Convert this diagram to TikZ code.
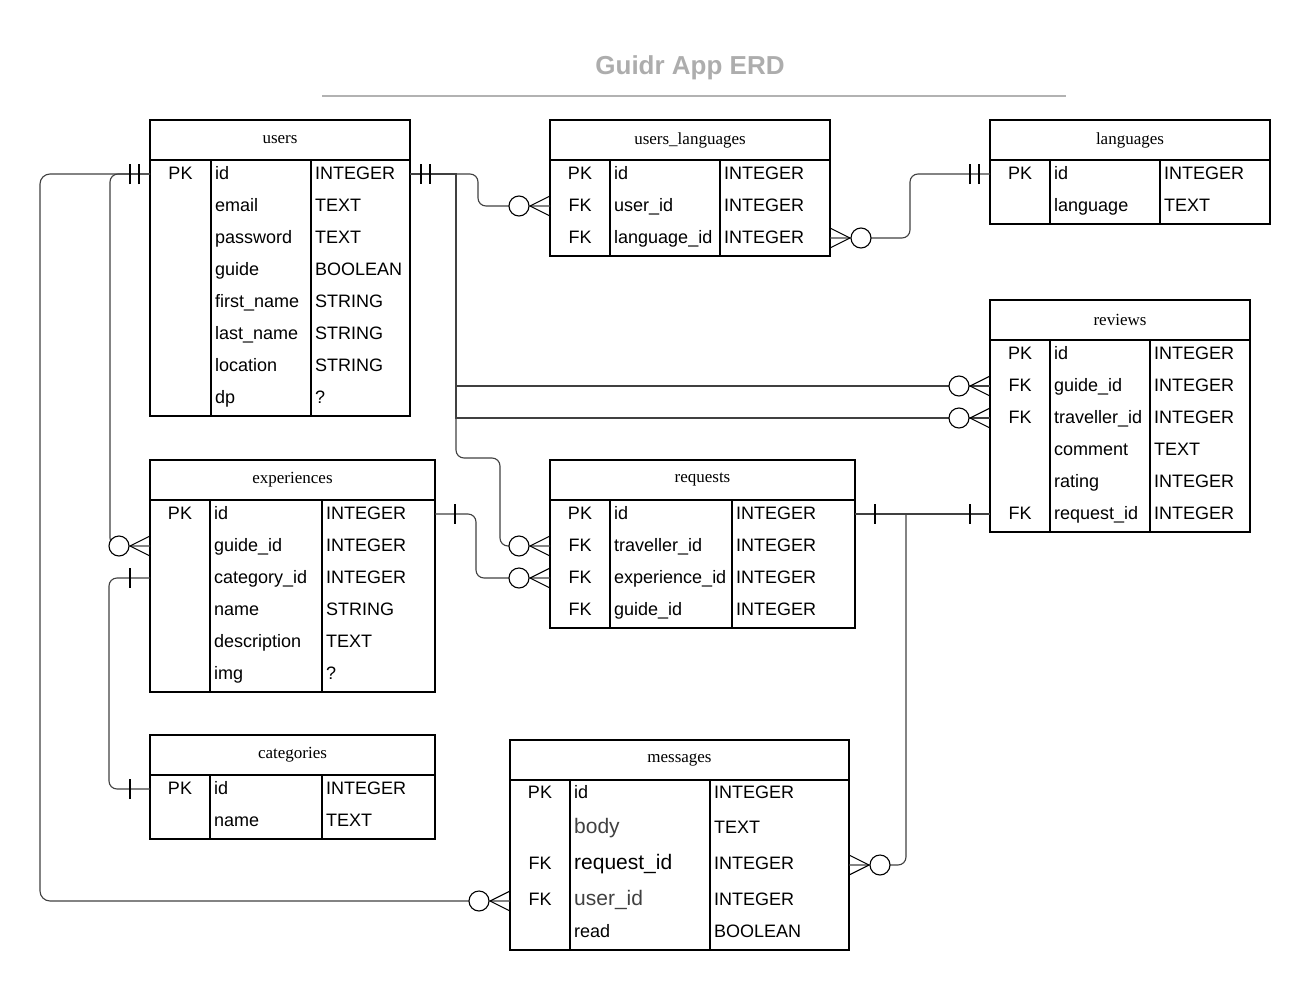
\documentclass[tikz,border=0pt]{standalone}
\usepackage{fontspec}
\setmainfont{Liberation Serif}
\setsansfont{Liberation Sans}
\usetikzlibrary{decorations.markings}

\begin{document}
\begin{tikzpicture}[x=1pt,y=-1pt,
    tablehead/.style={draw,line width=1.2pt,inner sep=0pt,outer sep=0pt,
      font=\fontsize{17}{20}\selectfont},
    tablebody/.style={line width=1.2pt},
    tablerow/.style={inner sep=0pt,outer sep=0pt,minimum height=32pt},
    keytext/.style={anchor=base,inner sep=0pt,font=\sffamily\fontsize{18}{22}\selectfont},
    fieldtext/.style={anchor=base west,inner sep=0pt,font=\sffamily\fontsize{18}{22}\selectfont},
    rel/.style={draw=black!75,line width=1.1pt},
    one/.style={postaction={decorate,decoration={markings,
      mark=at position 20pt with {\draw[black] (0,-10) -- (0,10);}}}},
    oneend/.style={postaction={decorate,decoration={markings,
      mark=at position -20pt with {\draw[black] (0,-10) -- (0,10);}}}},
    onlyone/.style={postaction={decorate,decoration={markings,
      mark=at position 11pt with {\draw[black] (0,-10) -- (0,10);},
      mark=at position 20pt with {\draw[black] (0,-10) -- (0,10);}}}},
    zeromany/.style={postaction={decorate,decoration={markings,
      mark=at position 1 with {\draw[black] (-20,0) -- (0,-10) (-20,0) -- (0,10);
        \draw[black,fill=white] (-31,0) circle (10);}}}}]
  \useasboundingbox (0,0) rectangle (1310,991);

  % title
  \node[font=\sffamily\bfseries\fontsize{26}{30}\selectfont,text=black!32] (title) at (690,68) {Guidr App ERD};
  \draw[black!30,line width=2pt] (322,96) -- (1066,96);

  % users
  \node[tablehead,minimum width=260pt,minimum height=40pt] (users) at (280,140) {users};
  \draw[tablebody] (users.south west) rectangle (410,416) (211,160) -- (211,416) (311,160) -- (311,416);
  \foreach \key/\fld/\typ [count=\i] in {PK/id/INTEGER, {}/email/TEXT, {}/password/TEXT, {}/guide/BOOLEAN,
      {}/first\_name/STRING, {}/last\_name/STRING, {}/location/STRING, {}/dp/?}{
    \node[tablerow,minimum width=260pt] (users-\i) at (280,{142+32*\i}) {};
    \node[keytext] (users-k\i) at (180.5,{147.5+32*\i}) {\key};
    \node[fieldtext] (users-f\i) at (215,{147.5+32*\i}) {\fld};
    \node[fieldtext] (users-t\i) at (315,{147.5+32*\i}) {\typ};
  }

  % users_languages
  \node[tablehead,minimum width=280pt,minimum height=40pt] (userslang) at (690,140) {users\_languages};
  \draw[tablebody] (userslang.south west) rectangle (830,256) (610,160) -- (610,256) (720,160) -- (720,256);
  \foreach \key/\fld/\typ [count=\i] in {PK/id/INTEGER, FK/user\_id/INTEGER, FK/language\_id/INTEGER}{
    \node[tablerow,minimum width=280pt] (userslang-\i) at (690,{142+32*\i}) {};
    \node[keytext] (userslang-k\i) at (580,{147.5+32*\i}) {\key};
    \node[fieldtext] (userslang-f\i) at (614,{147.5+32*\i}) {\fld};
    \node[fieldtext] (userslang-t\i) at (724,{147.5+32*\i}) {\typ};
  }

  % languages
  \node[tablehead,minimum width=280pt,minimum height=40pt] (languages) at (1130,140) {languages};
  \draw[tablebody] (languages.south west) rectangle (1270,224) (1050,160) -- (1050,224) (1160,160) -- (1160,224);
  \foreach \key/\fld/\typ [count=\i] in {PK/id/INTEGER, {}/language/TEXT}{
    \node[tablerow,minimum width=280pt] (languages-\i) at (1130,{142+32*\i}) {};
    \node[keytext] (languages-k\i) at (1020,{147.5+32*\i}) {\key};
    \node[fieldtext] (languages-f\i) at (1054,{147.5+32*\i}) {\fld};
    \node[fieldtext] (languages-t\i) at (1164,{147.5+32*\i}) {\typ};
  }

  % reviews
  \node[tablehead,minimum width=260pt,minimum height=40pt] (reviews) at (1120,320) {reviews};
  \draw[tablebody] (reviews.south west) rectangle (1250,532) (1050,340) -- (1050,532) (1150,340) -- (1150,532);
  \foreach \key/\fld/\typ [count=\i] in {PK/id/INTEGER, FK/guide\_id/INTEGER, FK/traveller\_id/INTEGER,
      {}/comment/TEXT, {}/rating/INTEGER, FK/request\_id/INTEGER}{
    \node[tablerow,minimum width=260pt] (reviews-\i) at (1120,{322+32*\i}) {};
    \node[keytext] (reviews-k\i) at (1020,{327.5+32*\i}) {\key};
    \node[fieldtext] (reviews-f\i) at (1054,{327.5+32*\i}) {\fld};
    \node[fieldtext] (reviews-t\i) at (1154,{327.5+32*\i}) {\typ};
  }

  % experiences
  \node[tablehead,minimum width=285pt,minimum height=40pt] (experiences) at (292.5,480) {experiences};
  \draw[tablebody] (experiences.south west) rectangle (435,692) (210,500) -- (210,692) (322,500) -- (322,692);
  \foreach \key/\fld/\typ [count=\i] in {PK/id/INTEGER, {}/guide\_id/INTEGER, {}/category\_id/INTEGER,
      {}/name/STRING, {}/description/TEXT, {}/img/?}{
    \node[tablerow,minimum width=285pt] (experiences-\i) at (292.5,{482+32*\i}) {};
    \node[keytext] (experiences-k\i) at (180,{487.5+32*\i}) {\key};
    \node[fieldtext] (experiences-f\i) at (214,{487.5+32*\i}) {\fld};
    \node[fieldtext] (experiences-t\i) at (326,{487.5+32*\i}) {\typ};
  }

  % requests
  \node[tablehead,minimum width=305pt,minimum height=40pt] (requests) at (702.5,480) {requests};
  \draw[tablebody] (requests.south west) rectangle (855,628) (610,500) -- (610,628) (732,500) -- (732,628);
  \foreach \key/\fld/\typ [count=\i] in {PK/id/INTEGER, FK/traveller\_id/INTEGER, FK/experience\_id/INTEGER,
      FK/guide\_id/INTEGER}{
    \node[tablerow,minimum width=305pt] (requests-\i) at (702.5,{482+32*\i}) {};
    \node[keytext] (requests-k\i) at (580,{487.5+32*\i}) {\key};
    \node[fieldtext] (requests-f\i) at (614,{487.5+32*\i}) {\fld};
    \node[fieldtext] (requests-t\i) at (736,{487.5+32*\i}) {\typ};
  }

  % categories
  \node[tablehead,minimum width=285pt,minimum height=40pt] (categories) at (292.5,755) {categories};
  \draw[tablebody] (categories.south west) rectangle (435,839) (210,775) -- (210,839) (322,775) -- (322,839);
  \foreach \key/\fld/\typ [count=\i] in {PK/id/INTEGER, {}/name/TEXT}{
    \node[tablerow,minimum width=285pt] (categories-\i) at (292.5,{757+32*\i}) {};
    \node[keytext] (categories-k\i) at (180,{762.5+32*\i}) {\key};
    \node[fieldtext] (categories-f\i) at (214,{762.5+32*\i}) {\fld};
    \node[fieldtext] (categories-t\i) at (326,{762.5+32*\i}) {\typ};
  }

  % messages
  \node[tablehead,minimum width=339pt,minimum height=40pt] (messages) at (679.5,760) {messages};
  \draw[tablebody] (messages.south west) rectangle (849,950) (570,780) -- (570,950) (710,780) -- (710,950);
  \foreach \key/\fld/\typ/\yy/\sz/\col [count=\i] in {PK/id/INTEGER/794/18/black,
      {}/body/TEXT/829/21/black!75, FK/request\_id/INTEGER/865/21/black,
      FK/user\_id/INTEGER/901/21/black!75, {}/read/BOOLEAN/933/18/black}{
    \node[tablerow,minimum width=339pt] (messages-\i) at (679.5,\yy) {};
    \node[keytext] (messages-k\i) at (540,{\yy+4}) {\key};
    \node[fieldtext,text=\col,font=\sffamily\fontsize{\sz}{24}\selectfont] (messages-f\i) at (574,{\yy+4}) {\fld};
    \node[fieldtext] (messages-t\i) at (714,{\yy+4}) {\typ};
  }

  % relations
  \draw[rel,onlyone,zeromany,rounded corners=8pt] (users-1.east) -- (478,174) -- (478,206) -- (userslang-2.west);
  \draw[rel,onlyone,zeromany,rounded corners=8pt] (languages-1.west) -- (910,174) -- (910,238) -- (userslang-3.east);
  \draw[rel,onlyone,zeromany] (users-1.east) -- (456,174) -- (456,386) -- (reviews-2.west);
  \draw[rel,onlyone,zeromany] (users-1.east) -- (456,174) -- (456,418) -- (reviews-3.west);
  \draw[rel,onlyone,zeromany] (users-1.east) -- (456,174) [rounded corners=8pt] -- (456,458) -- (500,458)
    -- (500,546) -- (requests-2.west);
  \draw[rel,onlyone,zeromany,rounded corners=8pt] (users-1.west) -- (110,174) -- (110,546) -- (experiences-2.west);
  \draw[rel,onlyone,zeromany,rounded corners=10pt] (users-1.west) -- (40,174) -- (40,901) -- (messages-4.west);
  \draw[rel,one,zeromany,rounded corners=8pt] (experiences-1.east) -- (476,514) -- (476,578) -- (requests-3.west);
  \draw[rel,one,oneend,rounded corners=8pt] (categories-1.west) -- (109,789) -- (109,578) -- (experiences-3.west);
  \draw[rel,one,oneend] (requests-1.east) -- (reviews-6.west);
  \draw[rel,one,zeromany] (requests-1.east) -- (906,514) [rounded corners=8pt] -- (906,865) -- (messages-3.east);
\end{tikzpicture}
\end{document}
